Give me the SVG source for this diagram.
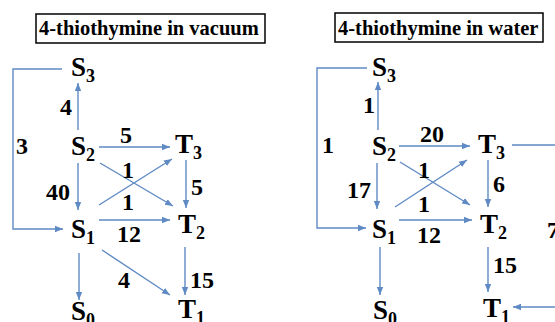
<svg xmlns="http://www.w3.org/2000/svg" width="555" height="322" viewBox="0 0 555 322">
<style>
  text { font-family: "Liberation Serif", "DejaVu Serif", "Times New Roman", serif; font-weight: bold; fill: #000; }
  .title { font-size: 20.5px; }
  .box { fill: #fff; stroke: #000; stroke-width: 1.5; }
  .node { font-size: 27px; }
  .sub { font-size: 18px; }
  .lbl { font-size: 24px; }
  .c { fill: none; stroke: #5f8ac4; stroke-width: 1.4; }
  .a { marker-end: url(#arr); }
</style>
<defs>
  <marker id="arr" markerUnits="userSpaceOnUse" markerWidth="9" markerHeight="8" refX="8" refY="4" orient="auto">
    <path d="M0,0.8 L8,4 L0,7.2 z" fill="#5f8ac4"/>
  </marker>
</defs>
<rect width="555" height="322" fill="#fff"/>

<g id="title-vacuum">
  <rect class="box" x="36" y="14" width="229" height="29"/>
  <text class="title" x="39" y="35" font-family="Liberation Serif, serif">4-thiothymine in vacuum</text>
</g>
<g id="title-water">
  <rect class="box" x="335" y="13" width="208" height="29"/>
  <text class="title" x="338" y="35" font-family="Liberation Serif, serif">4-thiothymine in water</text>
</g>

<g id="connectors">
  <polyline class="c a" points="62,69 13,69 13,229 63,229"/>
  <line class="c a" x1="78" y1="130" x2="78" y2="83"/>
  <line class="c a" x1="78" y1="163" x2="78" y2="210"/>
  <line class="c a" x1="79" y1="253" x2="79" y2="300"/>
  <line class="c a" x1="99" y1="147" x2="170" y2="147"/>
  <line class="c a" x1="99" y1="220" x2="170" y2="220"/>
  <line class="c a" x1="100" y1="163" x2="173" y2="206"/>
  <line class="c a" x1="99" y1="205" x2="172" y2="159"/>
  <line class="c a" x1="186" y1="160" x2="186" y2="208"/>
  <line class="c a" x1="185" y1="247" x2="185" y2="295"/>
  <line class="c a" x1="102" y1="250" x2="170" y2="295"/>
  <polyline class="c a" points="367,68 317,68 317,228 366,228"/>
  <line class="c a" x1="378" y1="130" x2="378" y2="82"/>
  <line class="c a" x1="377" y1="163" x2="377" y2="209"/>
  <line class="c a" x1="380" y1="247" x2="380" y2="295"/>
  <line class="c a" x1="399" y1="146" x2="470" y2="146"/>
  <line class="c a" x1="399" y1="220" x2="472" y2="220"/>
  <line class="c a" x1="400" y1="162" x2="470" y2="205"/>
  <line class="c a" x1="395" y1="207" x2="467" y2="160"/>
  <line class="c a" x1="488" y1="160" x2="488" y2="207"/>
  <line class="c a" x1="488" y1="247" x2="488" y2="292"/>
  <line class="c" x1="512" y1="145" x2="560" y2="145"/>
  <line class="c a" x1="560" y1="307" x2="513" y2="307"/>
</g>

<g id="labels">
  <text class="lbl" x="60" y="115">4</text>
  <text class="lbl" x="16" y="154">3</text>
  <text class="lbl" x="120" y="143">5</text>
  <text class="lbl" x="122" y="178">1</text>
  <text class="lbl" x="122" y="210">1</text>
  <text class="lbl" x="46" y="200">40</text>
  <text class="lbl" x="191" y="195">5</text>
  <text class="lbl" x="117" y="242">12</text>
  <text class="lbl" x="118" y="288">4</text>
  <text class="lbl" x="190" y="288">15</text>

  <text class="lbl" x="322" y="153">1</text>
  <text class="lbl" x="363" y="113">1</text>
  <text class="lbl" x="420" y="142">20</text>
  <text class="lbl" x="418" y="178">1</text>
  <text class="lbl" x="418" y="212">1</text>
  <text class="lbl" x="347" y="198">17</text>
  <text class="lbl" x="493" y="192">6</text>
  <text class="lbl" x="417" y="243">12</text>
  <text class="lbl" x="493" y="273">15</text>
  <text class="lbl" x="547" y="238">7</text>
</g>

<g id="vac-S3"><text class="node" x="71" y="76">S<tspan class="sub" dy="6">3</tspan></text></g>
<g id="vac-S2"><text class="node" x="71" y="155">S<tspan class="sub" dy="6">2</tspan></text></g>
<g id="vac-S1"><text class="node" x="71" y="238">S<tspan class="sub" dy="6">1</tspan></text></g>
<g id="vac-S0"><text class="node" x="71" y="320">S<tspan class="sub" dy="6">0</tspan></text></g>
<g id="vac-T3"><text class="node" x="175" y="153">T<tspan class="sub" dy="6">3</tspan></text></g>
<g id="vac-T2"><text class="node" x="178" y="233">T<tspan class="sub" dy="6">2</tspan></text></g>
<g id="vac-T1"><text class="node" x="178" y="318">T<tspan class="sub" dy="6">1</tspan></text></g>

<g id="wat-S3"><text class="node" x="372" y="76">S<tspan class="sub" dy="6">3</tspan></text></g>
<g id="wat-S2"><text class="node" x="372" y="155">S<tspan class="sub" dy="6">2</tspan></text></g>
<g id="wat-S1"><text class="node" x="372" y="238">S<tspan class="sub" dy="6">1</tspan></text></g>
<g id="wat-S0"><text class="node" x="373" y="319">S<tspan class="sub" dy="6">0</tspan></text></g>
<g id="wat-T3"><text class="node" x="478" y="153">T<tspan class="sub" dy="6">3</tspan></text></g>
<g id="wat-T2"><text class="node" x="480" y="233">T<tspan class="sub" dy="6">2</tspan></text></g>
<g id="wat-T1"><text class="node" x="483" y="317">T<tspan class="sub" dy="6">1</tspan></text></g>
</svg>
